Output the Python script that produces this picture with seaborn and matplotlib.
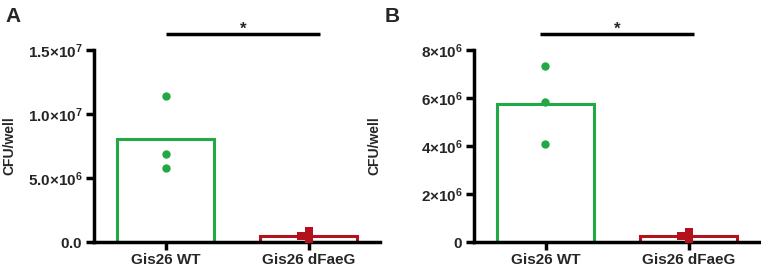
import pandas as pd
import matplotlib.pyplot as plt
import seaborn as sns

groups = ["Gis26 WT", "Gis26 dFaeG"]

# panel A: CFU/well, three replicates per strain
a_wt = [11.4e6, 6.9e6, 5.75e6]
a_dfaeg = [0.86e6, 0.1e6, 0.47e6]

# panel B
b_wt = [7.33e6, 5.85e6, 4.07e6]
b_dfaeg = [0.4e6, 0.05e6, 0.25e6]

a_ticks = [0, 5e6, 1e7, 1.5e7]
a_ticklabels = [r"$\mathbf{0.0}$", r"$\mathbf{5.0{\times}10^{6}}$",
                r"$\mathbf{1.0{\times}10^{7}}$", r"$\mathbf{1.5{\times}10^{7}}$"]
b_ticks = [0, 2e6, 4e6, 6e6, 8e6]
b_ticklabels = [r"$\mathbf{0}$", r"$\mathbf{2{\times}10^{6}}$", r"$\mathbf{4{\times}10^{6}}$",
                r"$\mathbf{6{\times}10^{6}}$", r"$\mathbf{8{\times}10^{6}}$"]

GREEN = "#22A845"
RED = "#B3121C"


def make_df(wt, mut):
    return pd.DataFrame({
        "strain": [groups[0]] * len(wt) + [groups[1]] * len(mut),
        "cfu": list(wt) + list(mut),
    })


sns.set_theme(style="ticks")
plt.rcParams["font.family"] = ["Liberation Sans", "DejaVu Sans"]
plt.rcParams["font.weight"] = "bold"
plt.rcParams["mathtext.fontset"] = "custom"
plt.rcParams["mathtext.bf"] = "Liberation Sans:bold"
plt.rcParams["mathtext.rm"] = "Liberation Sans"

fig = plt.figure(figsize=(7.61, 2.64), dpi=100)
ax_a = fig.add_axes([94 / 761, 22 / 264, 286 / 761, 192 / 264])
ax_b = fig.add_axes([474 / 761, 22 / 264, 286 / 761, 192 / 264])

panels = [
    (ax_a, make_df(a_wt, a_dfaeg), 1.5e7, a_ticks, a_ticklabels, (0.0, 1.08), 16.25e6, -0.27),
    (ax_b, make_df(b_wt, b_dfaeg), 8e6, b_ticks, b_ticklabels, (-0.04, 1.04), 8.67e6, -0.325),
]
palette = {groups[0]: GREEN, groups[1]: RED}

for ax, df, ymax, ticks, ticklabels, sig_x, sig_y, label_x in panels:
    sns.barplot(data=df, x="strain", y="cfu", hue="strain", order=groups,
                palette=palette, fill=False, errorbar=None, width=0.68,
                linewidth=2.2, legend=False, ax=ax)
    sns.swarmplot(data=df[df["strain"] == groups[0]], x="strain", y="cfu",
                  order=groups, color=GREEN, marker="o", size=6, ax=ax)
    sns.swarmplot(data=df[df["strain"] == groups[1]], x="strain", y="cfu",
                  order=groups, color=RED, marker="s", size=6, ax=ax,
                  warn_thresh=1)

    ax.set_xlim(-0.5, 1.5)
    ax.set_ylim(0, ymax)
    ax.set_yticks(ticks)
    ax.set_yticklabels(ticklabels)
    ax.set_xlabel("")
    ax.set_ylabel("CFU/well", fontsize=10, fontweight="bold")
    ax.yaxis.set_label_coords(label_x, 0.5)
    ax.tick_params(axis="both", width=2.5, length=6, labelsize=11, pad=2, color="black")
    for lab in ax.get_xticklabels():
        lab.set_fontweight("bold")
    sns.despine(ax=ax)
    for side in ["left", "bottom"]:
        ax.spines[side].set_linewidth(2.5)
        ax.spines[side].set_color("black")

    ax.plot(sig_x, [sig_y, sig_y], color="black", lw=2.5, clip_on=False,
            solid_capstyle="butt")
    ax.text(sum(sig_x) / 2, sig_y, "*", ha="center", va="baseline",
            fontsize=12, fontweight="bold", clip_on=False)

fig.text(5 / 761, 1 - 16 / 264, "A", fontsize=15, fontweight="bold", va="center")
fig.text(385 / 761, 1 - 16 / 264, "B", fontsize=15, fontweight="bold", va="center")

fig.savefig("out.png", dpi=100)
